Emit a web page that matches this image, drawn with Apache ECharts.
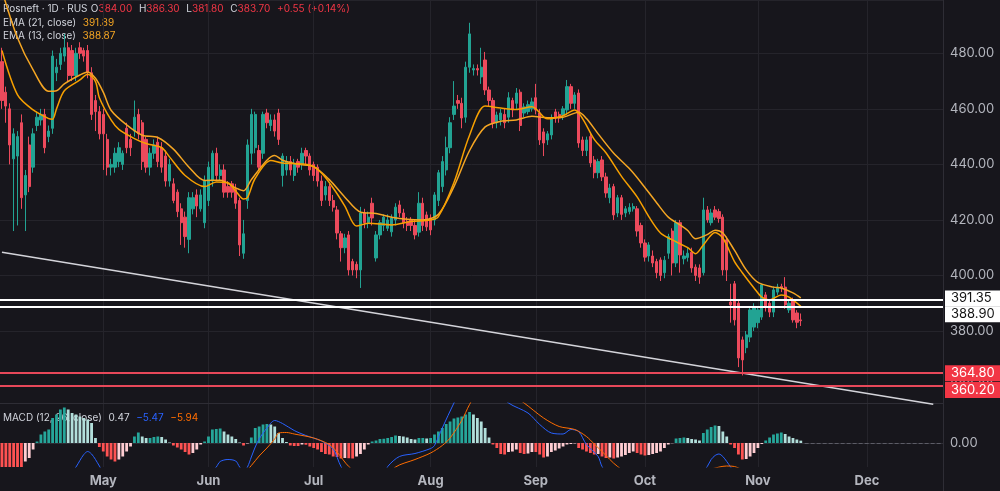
<!DOCTYPE html>
<html>
<head>
<meta charset="utf-8">
<title>Rosneft 1D</title>
<script src="https://cdn.jsdelivr.net/npm/echarts@6/dist/echarts.min.js"></script>
<style>
  html, body { margin: 0; padding: 0; background: #17161c; }
  #chart { width: 1000px; height: 491px; }
</style>
</head>
<body>
<div id="chart"></div>
<script>
// one slot per trading day, empty slots on the right are future days
const slotCount = 242
const monthTicks = { 26: 'May', 53: 'Jun', 80: 'Jul', 110: 'Aug', 137: 'Sep', 165: 'Oct', 194: 'Nov', 222: 'Dec' }

const opens = [
  477, 466, 460, 442, 443, 455, 429, 447, 439, 454, 456, 458, 450, 453, 473, 476, 479, 482, 481, 472,
  482, 481, 481, 473, 463, 459, 458, 449, 439, 439, 441, 440, 453, 449, 452, 458, 455, 449, 439, 444,
  448, 446, 443, 434, 433, 430, 424, 421, 413, 424, 429, 424, 419, 427, 434, 444, 436, 438, 432, 433,
  431, 427, 408, 427, 444, 446, 445, 444, 458.5, 454, 456, 458.5, 436, 438, 441, 436, 441, 440, 445, 443,
  440, 439, 434, 429, 432, 427, 423.6, 415, 410, 414.6, 405, 404, 402, 422.5, 419, 426, 406.3, 414.6, 418, 417,
  415.7, 420, 425.4, 422.5, 419.5, 420, 418, 415.6, 426, 421.8, 420.7, 420, 427, 432, 438, 446, 458, 463, 462, 457,
  475, 474, 474.5, 471.5, 477.6, 466.8, 463, 455, 456, 458, 457, 463, 462, 466, 458.5, 459, 460, 464, 458.5, 451.7,
  448.8, 450.6, 458.9, 458, 457.8, 459.6, 468, 462, 465.7, 448.8, 445, 450, 441.6, 437, 441.6, 435.5, 428, 432, 422.5, 428,
  422.5, 423, 424, 424, 418, 411.7, 407, 407, 405, 405.6, 401, 408, 416, 404.5, 419, 406, 406.5, 408.4, 403, 402.7,
  401, 423.6, 419, 423.6, 423, 421, 412.8, 390.4, 397, 390, 376.8, 374, 377.8, 381.4, 383, 385, 393, 390, 386.8, 394,
  396, 395.8, 387.6, 391, 386.5, 384
]
const closes = [
  463, 461, 447, 451, 450, 428, 436, 432, 451, 457, 458, 446, 452, 479, 475, 480, 482, 472, 472, 480,
  480, 479, 473, 458, 459, 451, 451, 439, 440, 444, 446, 444, 446, 446, 457, 451, 441, 439, 444, 447,
  441, 439, 434, 440, 427, 423, 419, 414, 428, 428, 425, 429, 434, 439, 444, 436, 438, 430, 430, 430,
  426, 411, 415, 447, 458, 458, 439, 458, 455, 456, 452, 449, 443, 441, 438, 440, 439, 444, 443, 438,
  436, 434, 427, 432, 427, 424.6, 415.3, 410, 413.5, 402, 402, 402, 422.5, 419, 421, 420.7, 414.6, 419, 421, 420,
  420.7, 424.6, 422.5, 419, 418, 418, 414.6, 426, 418, 417.5, 416.4, 429, 437, 441, 446, 455, 461, 462, 456.7, 475,
  487, 474.5, 474, 475, 466.8, 463, 455, 457.8, 458.5, 455, 464, 459.6, 465.7, 454, 460.7, 461.5, 462.5, 459.6, 448.8, 447.7,
  451, 456.7, 456.7, 456.7, 460, 468, 462, 465, 447.7, 445, 448.8, 440.5, 437, 441, 435.5, 429.7, 431.5, 421.8, 428, 422,
  424, 424.5, 424.8, 416, 411.7, 406.6, 411, 404.5, 401, 400, 405.5, 414, 404.5, 419, 407.4, 407, 408, 402.7, 400, 399.4,
  423.6, 420, 422.5, 421, 420.5, 402, 402, 389.4, 384, 370.3, 369.6, 378.6, 387.6, 388.6, 387.6, 396.6, 388.6, 386.8, 394.8, 395.8,
  395.5, 389.4, 390, 384, 383.15, 383.7
]
const lows = [
  460, 455, 440, 416, 418, 424, 416, 430, 437, 452, 454, 444, 448, 451, 470, 474, 477, 470, 470, 470,
  478, 477, 471, 456, 452, 449, 438, 436, 436, 437, 439, 438, 444, 443, 450, 449, 438, 437, 436, 442,
  439, 437, 432, 432, 426, 421, 411, 410, 408, 422, 421, 423, 417, 425, 432, 434, 434, 428, 428, 428,
  424, 407, 406, 424, 440, 444, 438, 442, 453, 452, 450, 447, 432, 436, 436, 434, 437, 438, 440, 436,
  434, 432, 425, 427, 425, 423, 413, 405, 408, 400, 400, 399, 395.5, 417, 417, 418, 405, 413, 416, 416,
  414, 418, 421, 417, 416, 416, 413, 414, 416, 416, 414.5, 418, 425, 430, 436, 444, 456, 460, 453, 455,
  473, 472, 472, 469, 465, 461, 453, 453, 454, 453, 455, 457, 460, 452, 457, 458, 459, 458, 447, 443,
  447, 449, 455, 455, 456, 458, 460, 460, 446, 443, 443, 439, 435, 435, 434, 428, 426, 420, 421, 420,
  421, 422, 423, 414, 410, 405, 405, 403, 399, 398, 399, 406, 400, 403, 401, 404, 405, 401, 398, 397,
  400, 419, 418, 420, 419, 400, 398, 383, 382, 367, 364, 372, 376, 380, 381, 384, 387, 385, 385, 393,
  394, 388, 386.5, 383, 381, 381.8
]
const highs = [
  482, 468, 462, 453, 452, 458, 438, 450, 453, 459, 460, 460, 454, 481, 478, 482, 487, 484, 483, 482,
  484, 482, 483, 475, 465, 461, 460, 451, 442, 446, 448, 445, 455, 451, 463, 460, 456, 450, 446, 449,
  450, 448, 445, 442, 435, 431, 426, 423, 430, 430, 431, 431, 436, 441, 445, 446, 440, 440, 434, 434,
  433, 428, 420, 449, 460, 459, 447, 459, 460, 458, 458, 460, 444, 443, 443, 442, 442, 446, 446, 444,
  441, 440, 436, 434, 433, 429, 425, 416, 415, 416, 406, 405, 424.7, 424, 423, 428, 416, 420, 422, 422,
  422, 426, 427, 424, 421, 421, 420, 430, 428, 423, 422, 430, 438, 443, 450, 457, 470, 465, 464, 477,
  491, 476, 476, 482, 480.5, 468, 464, 459, 460, 460, 466, 464, 467.5, 467, 462, 463, 464, 469, 460, 453,
  452, 458, 460, 459, 461, 470.4, 469, 466, 467, 450, 450, 451, 443, 442, 443, 437, 433, 433, 429, 429,
  425, 426, 426, 425, 419, 413, 412, 409, 406, 406.5, 407, 415, 417, 420, 420, 409, 410, 410, 404, 404,
  428, 425, 424, 425, 424, 422, 414, 397, 398, 391, 378, 380, 389, 390, 389, 397, 394, 391, 396, 397,
  397, 399.4, 391, 392, 387.5, 386.3
]
const macdHist = [
  -5.0, -5.2, -5.4, -5.6, -5.9, -6.1, -3.7, -3.0, -1.3, 0.3, 1.7, 2.3, 2.7, 5.0, 5.7, 6.7, 7.1, 6.7, 6.0, 5.7,
  5.3, 5.0, 4.7, 4.0, 1.0, -0.8, -1.7, -2.7, -3.3, -3.7, -3.3, -2.7, -1.7, -0.7, 1.3, 2.1, 1.3, 1.0, 1.0, 1.2,
  1.3, 1.2, 0.7, 0.1, -0.5, -0.9, -1.3, -1.8, -2.3, -2.0, -1.3, -0.3, 0.3, 1.3, 2.7, 2.8, 2.9, 2.3, 1.7, 1.3,
  0.8, 0.1, -0.5, -0.1, 1.1, 3.0, 3.3, 3.7, 3.8, 3.7, 3.3, 2.0, 1.0, 0.2, -0.5, -0.6, -0.6, -0.3, -0.35, -0.7,
  -1.0, -1.3, -1.8, -2.2, -2.3, -2.7, -2.8, -3.1, -3.0, -3.05, -3.1, -2.7, -2.2, -1.3, -0.3, 0.3, 0.5, 0.8, 0.85, 1.0,
  1.2, 1.5, 1.4, 1.3, 1.1, 0.8, 0.7, 1.0, 1.0, 0.9, 1.0, 1.7, 2.3, 3.0, 3.8, 4.3, 4.9, 5.1, 5.3, 5.7,
  6.2, 5.7, 5.0, 4.3, 3.0, 1.1, -0.3, -1.0, -2.2, -2.3, -1.8, -1.7, -1.3, -2.0, -2.2, -2.1, -1.8, -1.8, -2.3, -2.9,
  -2.7, -1.8, -1.5, -1.1, -0.7, -0.3, -0.2, -0.1, -1.0, -1.3, -1.7, -2.0, -2.3, -2.2, -2.7, -3.0, -2.9, -3.1, -2.9, -2.7,
  -2.4, -2.0, -1.7, -2.0, -2.3, -2.5, -2.4, -2.2, -2.0, -1.7, -1.0, -0.3, -0.05, 0.9, 1.0, 1.1, 1.0, 0.8, 0.7, 0.5,
  2.0, 2.7, 3.2, 3.5, 3.4, 2.3, 1.3, -0.3, -1.0, -2.3, -3.3, -3.2, -2.7, -2.0, -1.0, -0.2, 0.5, 1.1, 1.7, 1.9,
  2.1, 1.8, 1.3, 1.0, 0.7, 0.47
]
// EMA readings as [bar index, value]
const ema21 = [
  [0, 502.6], [4, 485.5], [8, 474], [12, 466.3], [14, 466.5], [16, 469], [20, 472.2], [22, 473.3], [24, 471], [26, 466],
  [28, 459.5], [32, 454.2], [36, 450.5], [40, 449.7], [44, 445.5], [48, 439], [52, 434.2], [56, 434.3], [60, 431.5], [62, 430.5],
  [64, 434.5], [68, 441.5], [70, 443.2], [72, 441.5], [76, 440], [80, 439.2], [84, 434.5], [88, 428.2], [92, 422.8], [96, 422.3],
  [100, 421], [104, 420.2], [108, 420], [112, 422], [116, 432], [120, 445], [124, 453.5], [128, 455.5], [132, 456], [136, 457.3],
  [140, 456.8], [144, 457], [148, 458.8], [150, 456.5], [153, 451], [157, 444], [161, 438.5], [164, 433.5], [168, 426.2], [171, 421],
  [174, 418.2], [176, 416.2], [178, 413.2], [181, 414.7], [183, 416.3], [185, 415.3], [188, 409], [191, 402], [194, 397.5], [198, 395.8],
  [200, 395.5], [203, 393.7], [205, 391.89]
]
const ema13 = [
  [0, 481], [4, 465], [8, 459.6], [12, 456.5], [13, 456.3], [14, 460], [16, 466.5], [20, 470.4], [22, 472.5], [24, 469.8],
  [25, 464], [28, 456], [30, 452.6], [34, 449.3], [37, 447.5], [41, 446], [43, 442.7], [47, 436], [52, 432], [55, 433.7],
  [58, 433.4], [60, 430.4], [62, 427.5], [63, 428], [65, 435], [69, 441.4], [72, 440.5], [79, 439.8], [82, 436.9], [85, 431.5],
  [88, 425], [91, 417.8], [94, 418.8], [100, 418.2], [105, 419.4], [110, 420], [112, 421.2], [116, 433.5], [120, 450.5], [124, 461],
  [128, 460.3], [132, 459.8], [136, 460.8], [140, 456.4], [144, 457.5], [147, 459.6], [149, 456.5], [152, 449], [155, 444.2], [159, 435.7],
  [163, 428.3], [166, 421.2], [169, 415.3], [172, 412.8], [176, 410], [178, 407.8], [180, 411], [183, 415.5], [185, 413.5], [188, 405],
  [190, 401], [193, 395.5], [195, 392.2], [197, 391.2], [200, 393], [202, 392.2], [205, 388.87]
]
const macdLine = [
  [0, -9], [8, -10], [14, -8], [18, -5.6], [19, -4.8], [20, -3.5], [21, -2.3], [22, -1.7], [23, -2.2], [24, -3.3],
  [25, -4.6], [26, -5.8], [30, -8], [40, -9], [50, -7], [54, -5.5], [55, -4.8], [56, -3.7], [58, -3.3], [60, -3.6],
  [61, -4.8], [62, -5.6], [63, -4.8], [64, -2.8], [65, -0.8], [66, 0.8], [68, 3], [70, 4.5], [72, 3.9], [75, 2.5],
  [78, 1.5], [82, 0.4], [85, -1.2], [87, -4.7], [90, -8], [95, -10], [98, -6.5], [99, -4.7], [102, -2.7], [106, -2.1],
  [110, -1.1], [111, -0.5], [113, 3], [116, 8], [118, 11], [122, 13], [126, 11], [130, 8], [135, 6], [138, 3.7],
  [141, 2], [144, 1.8], [146, 2.7], [148, 2.3], [150, -0.3], [153, -2.7], [154, -4.7], [158, -9], [170, -10], [178, -7.5],
  [181, -4.7], [182, -3.3], [183, -2.5], [184, -2.2], [185, -2.7], [186, -3.7], [187, -4.8], [190, -8], [196, -8.2], [205, -5.47]
]
const signalLine = [
  [0, -7], [20, -8], [40, -8.5], [55, -7], [62, -6], [64, -4.5], [66, -2.6], [68, -1], [70, 0.8], [71, 2],
  [73, 2.1], [75, 1.8], [80, 1], [84, -0.3], [86, -1.8], [89, -4.7], [93, -7], [98, -7.5], [101, -4.8], [106, -3.3],
  [110, -2], [113, -0.5], [115, 1], [118, 4.5], [120, 7.7], [122, 10], [126, 11], [130, 10], [134, 8], [139, 5],
  [143, 3.3], [147, 2.7], [150, 1.3], [152, -0.2], [154, -1.7], [158, -4.7], [165, -8], [175, -6.5], [182, -5.2], [186, -4.6],
  [188, -4.7], [192, -6], [198, -6.5], [205, -5.94]
]
const whiteLevels = [391.35, 388.90]
const redLevels = [364.80, 360.20]
const trendLine = [[0, 408.4], [239, 353.6]]

const upColor = '#22a393'
const downColor = '#ec4a5c'
const axisText = '#b4b6be'
const gridColor = '#25242b'
const axisColor = '#2e2d35'
const textFont = 'Inter'

const cats = Array.from({ length: slotCount }, (_, i) => monthTicks[i] || ('d' + i))
const isMonth = (index) => monthTicks[index] !== undefined
const last = closes.length - 1

const candles = opens.map((o, i) => [o, closes[i], lows[i], highs[i]])
const histData = macdHist.map((v, i) => {
  const prev = i > 0 ? macdHist[i - 1] : v
  let c
  if (v >= 0) c = v >= prev ? '#26a69a' : '#b2dfdb'
  else c = v <= prev ? '#ff5252' : '#ffcdd2'
  return { value: v, itemStyle: { color: c } }
})

const change = closes[last] - closes[last - 1]
const changePct = change / closes[last - 1] * 100
const fmt = (v) => (v < 0 ? '\u2212' : '') + Math.abs(v).toFixed(2)
// legend text style
const rs = (fill) => ({ fill: fill, fontSize: 10, fontFamily: textFont })

const chart = echarts.init(document.getElementById('chart'))

const levelLabel = (bg, fg, dy) => ({
  show: true,
  position: 'end',
  distance: 2,
  formatter: (p) => Number(p.value).toFixed(2),
  backgroundColor: bg,
  color: fg,
  fontSize: 13,
  fontFamily: textFont,
  padding: [2, 6, 1, 6],
  width: 44,
  offset: [0, dy],
})

const option = {
  backgroundColor: '#17161c',
  animation: false,
  grid: [
    { left: 0, top: 0, width: 943, height: 403 },
    { left: 0, top: 403, width: 943, height: 64 },
  ],
  xAxis: [
    {
      type: 'category', gridIndex: 0, data: cats, boundaryGap: true,
      axisLabel: { show: false }, axisTick: { show: false },
      axisLine: { show: true, lineStyle: { color: axisColor } },
      splitLine: { show: true, interval: isMonth, alignWithLabel: true, lineStyle: { color: gridColor } },
    },
    {
      type: 'category', gridIndex: 1, data: cats, boundaryGap: true,
      axisTick: { show: false },
      axisLine: { show: true, lineStyle: { color: axisColor } },
      axisLabel: { interval: isMonth, color: axisText, fontSize: 13, fontWeight: 'bold', fontFamily: textFont, margin: 8 },
      splitLine: { show: true, interval: isMonth, alignWithLabel: true, lineStyle: { color: gridColor } },
    },
  ],
  yAxis: [
    {
      type: 'value', gridIndex: 0, position: 'right', min: 354.07, max: 499.2, splitNumber: 7,
      axisLine: { show: true, lineStyle: { color: axisColor } }, axisTick: { show: false },
      axisLabel: { color: axisText, fontSize: 13, fontFamily: textFont, margin: 7, showMinLabel: false, showMaxLabel: false,
        formatter: (v) => v.toFixed(2) },
      splitLine: { lineStyle: { color: gridColor } },
    },
    {
      type: 'value', gridIndex: 1, position: 'right', min: -4.8, max: 8,
      axisLine: { show: true, lineStyle: { color: axisColor } }, axisTick: { show: false },
      axisLabel: { color: axisText, fontSize: 13, fontFamily: textFont, margin: 7, showMinLabel: false, showMaxLabel: false,
        formatter: (v) => (Math.abs(v) < 1e-9 ? '0.00' : '') },
      splitLine: { show: false },
    },
  ],
  graphic: [
    {
      type: 'text', left: 3, top: 3,
      style: {
        text: '{n|Rosneft · 1D · RUS} {k|O}{v|' + opens[last].toFixed(2) + '}  {k|H}{v|' + highs[last].toFixed(2) +
          '}  {k|L}{v|' + lows[last].toFixed(2) + '}  {k|C}{v|' + closes[last].toFixed(2) + '}  {v|' +
          (change >= 0 ? '+' : '') + change.toFixed(2) + ' (' + (change >= 0 ? '+' : '') + changePct.toFixed(2) + '%)}',
        rich: { n: rs('#d1d4dc'), k: rs('#d1d4dc'), v: rs('#f23645') },
      },
    },
    {
      type: 'text', left: 3, top: 17,
      style: {
        text: '{n|EMA (21, close)}  {v|' + ema21[ema21.length - 1][1].toFixed(2) + '}',
        rich: { n: rs('#d1d4dc'), v: rs('#f5a623') },
      },
    },
    {
      type: 'text', left: 3, top: 30,
      style: {
        text: '{n|EMA (13, close)}  {v|' + ema13[ema13.length - 1][1].toFixed(2) + '}',
        rich: { n: rs('#d1d4dc'), v: rs('#f5a623') },
      },
    },
    {
      type: 'text', left: 3, top: 412,
      style: {
        text: '{n|MACD (12, 26, close)}  {h|' + fmt(macdHist[last]) + '}  {m|' + fmt(macdLine[macdLine.length - 1][1]) +
          '}  {s|' + fmt(signalLine[signalLine.length - 1][1]) + '}',
        rich: { n: rs('#d1d4dc'), h: rs('#d1d4dc'), m: rs('#2962ff'), s: rs('#ff6d00') },
      },
    },
    {
      type: 'line', shape: { x1: 943.5, y1: 467, x2: 943.5, y2: 491 },
      style: { stroke: axisColor, lineWidth: 1 },
    },
  ],
  series: [
    {
      name: 'Rosneft', type: 'candlestick', xAxisIndex: 0, yAxisIndex: 0, data: candles, barWidth: '72%',
      itemStyle: { color: upColor, color0: downColor, borderColor: upColor, borderColor0: downColor, borderWidth: 1 },
      markLine: {
        silent: true, symbol: ['none', 'none'], animation: false,
        data: [
          ...whiteLevels.map((v, k) => ({ yAxis: v, lineStyle: { color: '#ffffff', width: 2, type: 'solid' },
            label: levelLabel('#ffffff', '#131313', k === 0 ? -1 : 8) })),
          ...redLevels.map((v, k) => ({ yAxis: v, lineStyle: { color: '#e8485a', width: 2, type: 'solid' },
            label: levelLabel('#f23645', '#ffffff', k === 0 ? 0 : 4) })),
        ],
      },
    },
    {
      name: 'Trend', type: 'line', xAxisIndex: 0, yAxisIndex: 0, data: trendLine, clip: false, showSymbol: false,
      silent: true, lineStyle: { color: '#d4d4da', width: 1.5 }, z: 1,
    },
    {
      name: 'EMA 21', type: 'line', xAxisIndex: 0, yAxisIndex: 0, data: ema21, smooth: 0.3, showSymbol: false,
      lineStyle: { color: '#f5a623', width: 1.5 },
    },
    {
      name: 'EMA 13', type: 'line', xAxisIndex: 0, yAxisIndex: 0, data: ema13, smooth: 0.3, showSymbol: false,
      lineStyle: { color: '#f7a000', width: 1.5 },
    },
    {
      name: 'Histogram', type: 'bar', xAxisIndex: 1, yAxisIndex: 1, data: histData, barWidth: '72%',
      markLine: {
        silent: true, symbol: ['none', 'none'], animation: false,
        data: [[
          { coord: [last + 1, 0], lineStyle: { color: '#5c5c66', width: 1, type: 'dashed' }, label: { show: false } },
          { coord: [slotCount - 1, 0] },
        ]],
      },
    },
    {
      name: 'MACD', type: 'line', xAxisIndex: 1, yAxisIndex: 1, data: macdLine, smooth: 0.3, showSymbol: false,
      lineStyle: { color: '#2962ff', width: 1 },
    },
    {
      name: 'Signal', type: 'line', xAxisIndex: 1, yAxisIndex: 1, data: signalLine, smooth: 0.3, showSymbol: false,
      lineStyle: { color: '#ff6d00', width: 1 },
    },
  ],
}

chart.setOption(option)
</script>
</body>
</html>
